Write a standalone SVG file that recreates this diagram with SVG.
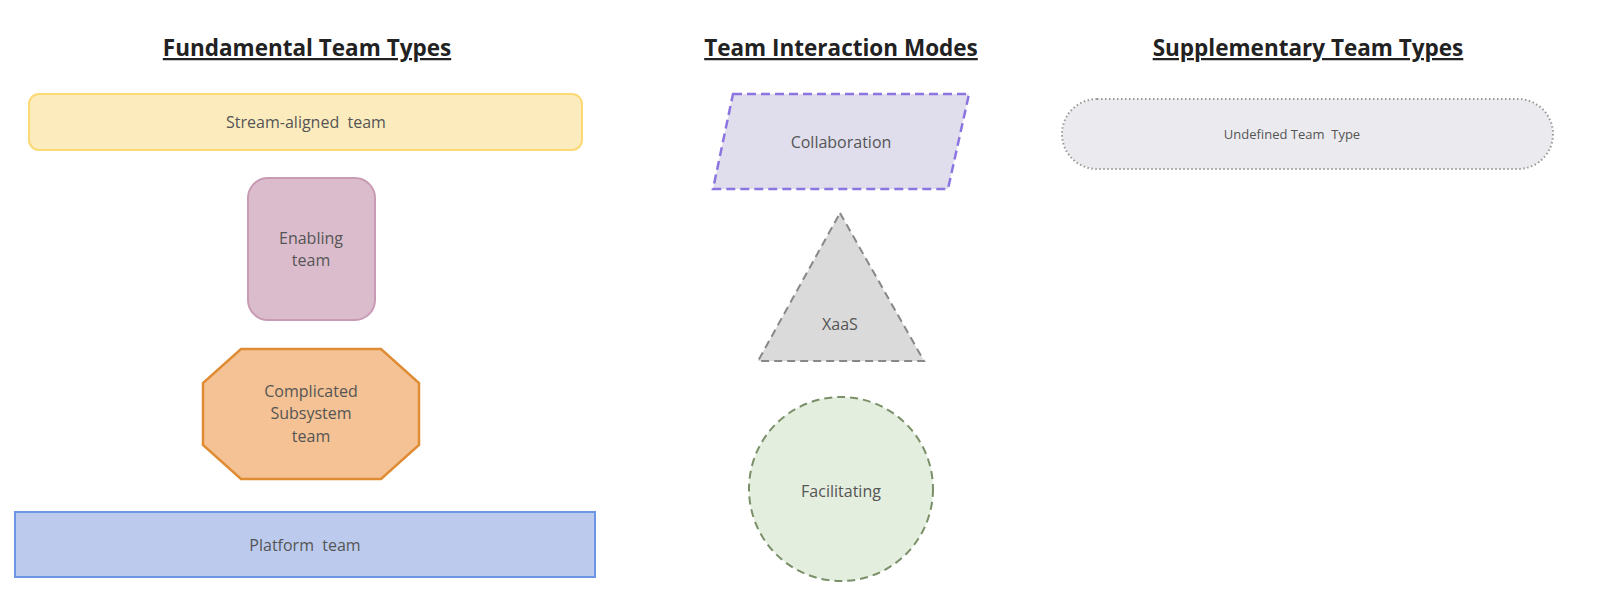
<svg xmlns="http://www.w3.org/2000/svg" width="1600" height="606" viewBox="0 0 1600 606">
<style>
text{font-family:"Open Sans","DejaVu Sans",sans-serif;fill:#555;font-size:16px;text-anchor:middle;white-space:pre}
.h{font-weight:bold;font-size:22.5px;fill:#222;text-decoration:underline}
</style>
<rect width="1600" height="606" fill="#fff"/>
<g id="headings">
<text class="h" x="307" y="56">Fundamental Team Types</text>
<text class="h" x="841" y="56">Team Interaction Modes</text>
<text class="h" x="1308" y="56">Supplementary Team Types</text>
</g>
<g id="stream"><rect x="29" y="94" width="553" height="56" rx="10" fill="#fcecbd" stroke="#fbd975" stroke-width="2"/><text x="306" y="128" xml:space="preserve">Stream-aligned  team</text></g>
<g id="enabling"><rect x="248" y="178" width="127" height="142" rx="20" fill="#dbbccc" stroke="#c89bb4" stroke-width="2"/><text x="311" y="244">Enabling</text><text x="311" y="266">team</text></g>
<g id="complicated"><polygon points="241,349 381,349 419,383 419,445 381,479 241,479 203,445 203,383" fill="#f4c294" stroke="#df8c35" stroke-width="2.5"/><text x="311" y="397">Complicated</text><text x="311" y="419">Subsystem</text><text x="311" y="442">team</text></g>
<g id="platform"><rect x="15" y="512" width="580" height="65" fill="#bccbed" stroke="#6d95e5" stroke-width="2"/><text x="305" y="551" xml:space="preserve">Platform  team</text></g>
<g id="collaboration"><polygon points="733,94 969,94 948,189 713,189" fill="#e0deec" stroke="#8c75e0" stroke-width="2.5" stroke-dasharray="9,5"/><text x="841" y="148">Collaboration</text></g>
<g id="xaas"><polygon points="840,213 924,361 758,361" fill="#dadada" stroke="#888" stroke-width="2" stroke-dasharray="8,5"/><text x="840" y="330">XaaS</text></g>
<g id="facilitating"><circle cx="841" cy="489" r="92" fill="#e3eedf" stroke="#7a9068" stroke-width="2" stroke-dasharray="8,5"/><text x="841" y="497">Facilitating</text></g>
<g id="undefined"><rect x="1062" y="99" width="491" height="70" rx="35" fill="#ebebef" stroke="#999" stroke-width="2" stroke-dasharray="1.5,2.5"/><text x="1292" y="139" style="font-size:13px" xml:space="preserve">Undefined Team  Type</text></g>
<g id="connectors"/>
</svg>
